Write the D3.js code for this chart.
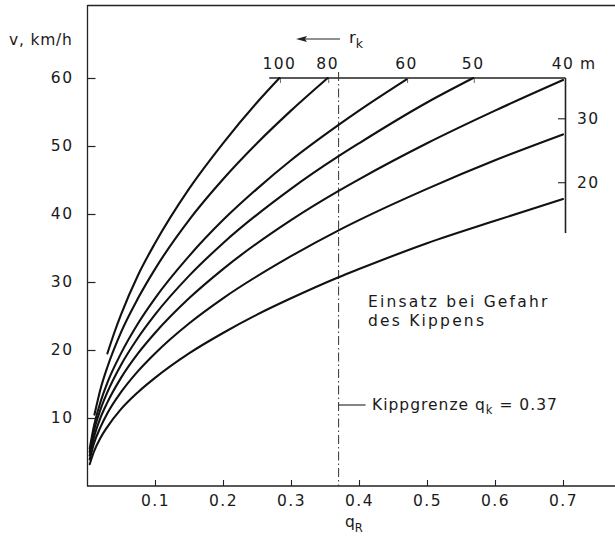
<!DOCTYPE html>
<html>
<head>
<meta charset="utf-8">
<script src="https://cdn.jsdelivr.net/npm/d3@7"></script>
<style>
  html, body { margin: 0; padding: 0; background: #fff; }
  svg { display: block; }
  text { font-family: "DejaVu Sans", "Liberation Sans", sans-serif; fill: #1a1a1a; }
</style>
</head>
<body>
<svg id="chart" width="615" height="544"></svg>
<script>
// ---- data ----
const radii = [100, 80, 60, 50, 40, 30, 20];           // r_k in m
const r100 = [[0.03,19.5],[0.04,22.5],[0.05,25.2],[0.075,31],[0.1,35.7],[0.15,43.7],[0.2,50.4],[0.25,56.4],[0.283,60]];
const r80  = [[0.011,10.5],[0.02,14.3],[0.03,17.5],[0.05,22.6],[0.075,27.6],[0.1,31.9],[0.15,39.1],[0.2,45.1],[0.25,50.4],[0.3,55.2],[0.354,60]];
const r60  = [[0.004,5.5],[0.01,8.7],[0.02,12.4],[0.03,15.2],[0.05,19.5],[0.075,23.9],[0.1,27.6],[0.15,33.8],[0.2,39.1],[0.25,43.7],[0.3,47.9],[0.37,53.1],[0.4,55.2],[0.47,59.8]];
const r50  = [[0.004,5.0],[0.01,8.0],[0.02,11.3],[0.03,13.8],[0.05,17.8],[0.075,21.8],[0.1,25.2],[0.15,30.9],[0.2,35.7],[0.3,43.7],[0.37,48.5],[0.4,50.4],[0.5,56.4],[0.568,60]];
const r40  = [[0.004,4.5],[0.01,7.1],[0.02,10.1],[0.03,12.3],[0.05,15.9],[0.075,19.5],[0.1,22.5],[0.15,27.6],[0.2,31.9],[0.3,39.1],[0.37,43.4],[0.4,45.1],[0.5,50.4],[0.6,55.2],[0.7,59.7]];
const r30  = [[0.004,3.9],[0.01,6.2],[0.02,8.7],[0.03,10.7],[0.05,13.8],[0.075,16.9],[0.1,19.5],[0.15,23.9],[0.2,27.6],[0.3,33.8],[0.37,37.6],[0.4,39.1],[0.5,43.7],[0.6,47.9],[0.7,51.7]];
const r20  = [[0.004,3.2],[0.01,5.0],[0.02,7.1],[0.03,8.7],[0.05,11.3],[0.075,13.8],[0.1,15.9],[0.15,19.5],[0.2,22.5],[0.25,25.2],[0.3,27.6],[0.37,30.7],[0.4,31.9],[0.5,35.7],[0.6,39.0],[0.7,42.2]];
const curves = [r100, r80, r60, r50, r40, r30, r20];

const xTicks = [0.1, 0.2, 0.3, 0.4, 0.5, 0.6, 0.7];
const yTicks = [10, 20, 30, 40, 50, 60];
const topLabels = [["100",0.283],["80",0.354],["60",0.47],["50",0.568],["40",0.70]];  // r_k labels at v = 60
const rightTicks = [["30",54.0],["20",44.6]];   // secondary r scale on the right
const rightScaleBottom = 37.2;
const qk = 0.37;
const vRim = 60;

// ---- scales ----
const svg = d3.select("#chart");
const x = d3.scaleLinear().domain([0, 0.7]).range([87, 563]);
const y = d3.scaleLinear().domain([0, 60]).range([486, 78]);
const FS = 15.5;

// frame: left line + top line + bottom axis line
svg.append("line").attr("x1", 87.5).attr("x2", 87.5).attr("y1", 5).attr("y2", y(0))
  .attr("stroke", "#222").attr("stroke-width", 1.3);
svg.append("line").attr("x1", 87.5).attr("x2", 615).attr("y1", 5.5).attr("y2", 5.5)
  .attr("stroke", "#222").attr("stroke-width", 1.3);
svg.append("line").attr("x1", 87).attr("x2", 615).attr("y1", y(0)).attr("y2", y(0))
  .attr("stroke", "#222").attr("stroke-width", 1.5);

// y axis
const yAxis = d3.axisLeft(y).tickValues(yTicks).tickFormat(d3.format("d"))
  .tickSizeInner(-8).tickSizeOuter(0).tickPadding(14);
const gy = svg.append("g").attr("transform", "translate(87.5,0)").call(yAxis);
gy.select(".domain").remove();
gy.selectAll("line").attr("stroke", "#222").attr("stroke-width", 1.2);
gy.selectAll("text").attr("font-size", FS).attr("letter-spacing", "1.5px")
  .attr("font-family", "DejaVu Sans").attr("fill", "#1a1a1a");

// x axis
const xAxis = d3.axisBottom(x).tickValues(xTicks).tickFormat(d3.format(".1f"))
  .tickSizeInner(-6).tickSizeOuter(0).tickPadding(9);
const gx = svg.append("g").attr("transform", `translate(0,${y(0)})`).call(xAxis);
gx.select(".domain").remove();
gx.selectAll("line").attr("stroke", "#222").attr("stroke-width", 1.1);
gx.selectAll("text").attr("font-size", FS).attr("letter-spacing", "1.5px")
  .attr("font-family", "DejaVu Sans").attr("fill", "#1a1a1a");

// axis titles
svg.append("text").attr("x", 9).attr("y", 45).attr("font-size", FS).attr("letter-spacing", "0.8px")
  .text("v, km/h");
const qR = svg.append("text").attr("x", 345).attr("y", 527).attr("font-size", FS);
qR.append("tspan").text("q");
qR.append("tspan").attr("font-size", FS - 4).attr("dy", 5).text("R");

// rim line at v = 60 and right secondary scale
svg.append("line").attr("x1", x(0.268)).attr("x2", x(0.7) + 2.5).attr("y1", y(vRim)).attr("y2", y(vRim))
  .attr("stroke", "#222").attr("stroke-width", 1.4);
svg.append("line").attr("x1", x(0.7) + 2.5).attr("x2", x(0.7) + 2.5).attr("y1", y(vRim)).attr("y2", y(rightScaleBottom))
  .attr("stroke", "#222").attr("stroke-width", 1.6);
svg.selectAll(".rtick").data(rightTicks).join("line")
  .attr("x1", x(0.7) - 5).attr("x2", x(0.7) + 2.5)
  .attr("y1", d => y(d[1])).attr("y2", d => y(d[1]))
  .attr("stroke", "#222").attr("stroke-width", 1.1);
svg.selectAll(".rlab").data(rightTicks).join("text")
  .attr("x", x(0.7) + 14).attr("y", d => y(d[1])).attr("dy", "0.36em")
  .attr("font-size", FS).attr("letter-spacing", "1.5px").text(d => d[0]);

// top labels of r_k
svg.selectAll(".tlab").data(topLabels).join("text")
  .attr("x", d => x(d[1])).attr("y", 69).attr("text-anchor", "middle")
  .attr("font-size", FS).attr("letter-spacing", "1.5px").text(d => d[0]);
svg.append("text").attr("x", x(0.7) + 17).attr("y", 69).attr("font-size", FS).text("m");
// small ticks under the rim where curves end
svg.selectAll(".etick").data(topLabels.slice(0, 4)).join("line")
  .attr("x1", d => x(d[1]) + 1).attr("x2", d => x(d[1]) + 1)
  .attr("y1", y(vRim)).attr("y2", y(vRim) + 5)
  .attr("stroke", "#444").attr("stroke-width", 0.8);

// arrow + r_k
svg.append("line").attr("x1", 300).attr("x2", 340).attr("y1", 39).attr("y2", 39)
  .attr("stroke", "#222").attr("stroke-width", 1.1);
svg.append("path").attr("d", "M296,39 L307,36 L305,39 L307,42 Z").attr("fill", "#222");
const rk = svg.append("text").attr("x", 349).attr("y", 43).attr("font-size", FS + 1);
rk.append("tspan").text("r");
rk.append("tspan").attr("font-size", FS - 3).attr("dy", 5).text("k");

// Kippgrenze dash-dot line
svg.append("line").attr("x1", x(qk)).attr("x2", x(qk)).attr("y1", 72).attr("y2", y(0))
  .attr("stroke", "#333").attr("stroke-width", 1).attr("stroke-dasharray", "9,3,1.5,3");
svg.append("line").attr("x1", x(qk)).attr("x2", x(qk) + 27).attr("y1", 405).attr("y2", 405)
  .attr("stroke", "#222").attr("stroke-width", 1.1);
const kg = svg.append("text").attr("x", 372).attr("y", 410).attr("font-size", FS).attr("letter-spacing", "1px");
kg.append("tspan").text("Kippgrenze q");
kg.append("tspan").attr("font-size", FS - 4).attr("dy", 4).text("k");
kg.append("tspan").attr("dy", -4).text(" = 0.37");

// annotation
svg.append("text").attr("x", 368).attr("y", 307).attr("font-size", FS).attr("letter-spacing", "2.2px")
  .text("Einsatz bei Gefahr");
svg.append("text").attr("x", 368).attr("y", 326).attr("font-size", FS).attr("letter-spacing", "2.2px")
  .text("des Kippens");

// curves
const line = d3.line().x(d => x(d[0])).y(d => y(d[1])).curve(d3.curveMonotoneX);
svg.selectAll(".curve").data(curves).join("path")
  .attr("class", "curve")
  .attr("d", line)
  .attr("fill", "none").attr("stroke", "#111").attr("stroke-width", 2.1)
  .attr("stroke-linecap", "round");
</script>
</body>
</html>
